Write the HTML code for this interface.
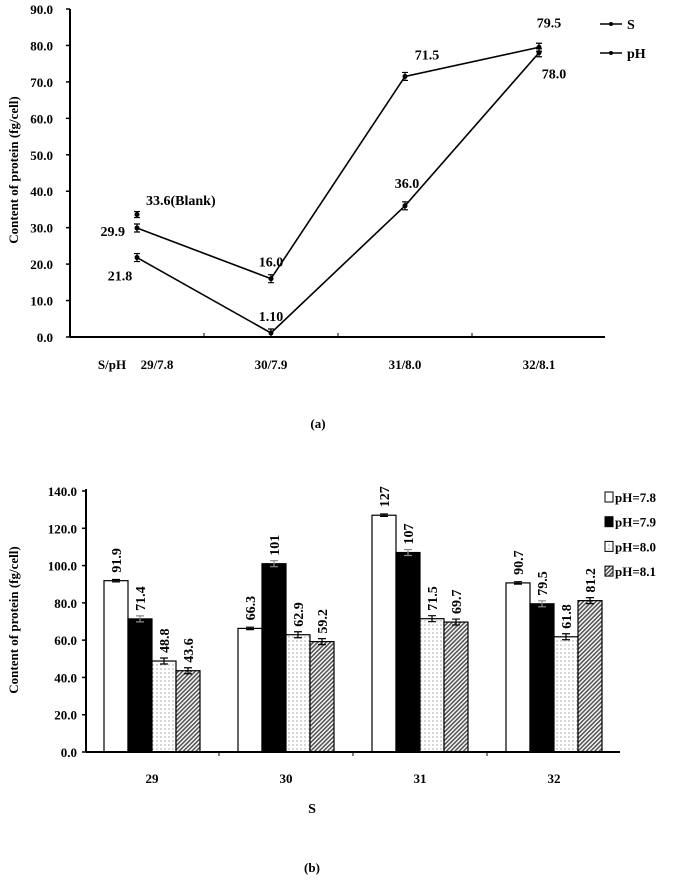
<!DOCTYPE html>
<html><head><meta charset="utf-8"><style>
body{margin:0;background:#fff;}
svg{display:block;font-family:"Liberation Serif",serif;font-weight:bold;}
</style></head><body>
<svg id="c" width="675" height="887">
<defs>
<pattern id="dots" width="4" height="4" patternUnits="userSpaceOnUse"><rect width="4" height="4" fill="#fff"/><circle cx="1" cy="1" r="0.6" fill="#777"/></pattern>
<pattern id="hatch" width="3" height="3" patternUnits="userSpaceOnUse" patternTransform="rotate(45)"><rect width="3" height="3" fill="#fff"/><rect width="1.6" height="3" fill="#555"/></pattern>
</defs>
</svg>
<script>
const lineCats=["29/7.8","30/7.9","31/8.0","32/8.1"];
const seriesS=[29.9,16.0,71.5,79.5];
const seriesPH=[21.8,1.10,36.0,78.0];
const blankVal=33.6;
const lineTicks=[0,10,20,30,40,50,60,70,80,90];
const barCats=["29","30","31","32"];
const bar78=[91.9,66.3,127,90.7];
const bar79=[71.4,101,107,79.5];
const bar80=[48.8,62.9,71.5,61.8];
const bar81=[43.6,59.2,69.7,81.2];
const barLabels=[["91.9","66.3","127","90.7"],["71.4","101","107","79.5"],["48.8","62.9","71.5","61.8"],["43.6","59.2","69.7","81.2"]];
const barTicks=[0,20,40,60,80,100,120,140];

const svg=document.getElementById('c');const NS="http://www.w3.org/2000/svg";
function el(t,a,txt){const e=document.createElementNS(NS,t);for(const k in a)e.setAttribute(k,a[k]);if(txt!==undefined)e.textContent=txt;svg.appendChild(e);return e;}

// ---- chart a
const ax0=70,ax1=605,ay0=337,ay1=9;
const yA=v=>ay0-(v/90)*(ay0-ay1);
const xA=i=>137+i*134;
let e=el('line',{x1:ax0,y1:ay0,x2:ax0,y2:ay1,stroke:'#000','stroke-width':2});

e=el('line',{x1:ax0,y1:ay0,x2:ax1,y2:ay0,stroke:'#000','stroke-width':2});

lineTicks.forEach(t=>{el('line',{x1:ax0-4,y1:yA(t),x2:ax0,y2:yA(t),stroke:'#000','stroke-width':1.5});
 e=el('text',{x:ax0-17,y:yA(t)+5,'font-size':13,'text-anchor':'end'},t.toFixed(1));
 });
[1,2,3].forEach(i=>el('line',{x1:xA(i)-67,y1:ay0,x2:xA(i)-67,y2:ay0-4,stroke:'#000','stroke-width':1}));
lineCats.forEach((c,i)=>{e=el('text',{x:xA(i)+(i==0?20:0),y:369,'font-size':13,'text-anchor':'middle'},c);
 });
e=el('text',{x:112,y:369,'font-size':13,'text-anchor':'middle'},'S/pH');

function series(vals,name){
 e=el('polyline',{points:vals.map((v,i)=>xA(i)+','+yA(v)).join(' '),fill:'none',stroke:'#000','stroke-width':1.6});
 
 vals.forEach((v,i)=>{el('circle',{cx:xA(i),cy:yA(v),r:2.5,fill:'#000'});
  el('path',{d:`M${xA(i)-3},${yA(v)-4}h6M${xA(i)},${yA(v)-4}v8M${xA(i)-3},${yA(v)+4}h6`,stroke:'#000','stroke-width':1.2});});
}
series(seriesS,'s-series');series(seriesPH,'ph-series');
el('circle',{cx:xA(0),cy:yA(blankVal),r:2.5,fill:'#000'});
el('path',{d:`M${xA(0)-3},${yA(blankVal)-3}h6M${xA(0)},${yA(blankVal)-3}v6M${xA(0)-3},${yA(blankVal)+3}h6`,stroke:'#000','stroke-width':1.2});
const lblA=[[seriesS[0],xA(0)-12,yA(seriesS[0])+8,'end'],[seriesS[1],xA(1),yA(seriesS[1])-12,'middle'],[seriesS[2],xA(2)+22,yA(seriesS[2])-17,'middle'],[seriesS[3],xA(3)+10,yA(seriesS[3])-20,'middle'],
[seriesPH[0],xA(0)-17,yA(seriesPH[0])+23,'middle'],[seriesPH[1],xA(1),yA(seriesPH[1])-12,'middle'],[seriesPH[2],xA(2)+2,yA(seriesPH[2])-18,'middle'],[seriesPH[3],xA(3)+15,yA(seriesPH[3])+26,'middle']];
lblA.forEach((l,k)=>{e=el('text',{x:l[1],y:l[2],'font-size':14,'text-anchor':l[3]},k==5?'1.10':l[0].toFixed(1));
 });
e=el('text',{x:146,y:205,'font-size':14},blankVal.toFixed(1)+'(Blank)');

e=el('text',{x:0,y:0,'font-size':13,'text-anchor':'middle',transform:'translate(18,170) rotate(-90)'},'Content of protein (fg/cell)');

[['S',24],['pH',53]].forEach(l=>{el('line',{x1:600,y1:l[1],x2:622,y2:l[1],stroke:'#000','stroke-width':1.5});el('circle',{cx:611,cy:l[1],r:2,fill:'#000'});
 e=el('text',{x:627,y:l[1]+5,'font-size':14},l[0]);});
e=el('text',{x:318,y:428,'font-size':13,'text-anchor':'middle'},'(a)');


// ---- chart b
const bx0=86,bx1=620,by0=752,by1=491;
const yB=v=>by0-(v/140)*(by0-by1);
const gx=i=>152+i*134;
e=el('line',{x1:bx0,y1:by0,x2:bx0,y2:by1-2,stroke:'#000','stroke-width':2});

barTicks.forEach(t=>{el('line',{x1:bx0-4,y1:yB(t),x2:bx0,y2:yB(t),stroke:'#000','stroke-width':1.5});
 e=el('text',{x:bx0-9,y:yB(t)+5,'font-size':13,'text-anchor':'end'},t.toFixed(1));
 });
barCats.forEach((c,i)=>{e=el('text',{x:gx(i),y:783,'font-size':13,'text-anchor':'middle'},c);
 });
[1,2,3].forEach(i=>el('line',{x1:gx(i)-67,y1:by0,x2:gx(i)-67,y2:by0+4,stroke:'#000','stroke-width':1}));
const sets=[[bar78,'#fff','ph-7-8'],[bar79,'#000','ph-7-9'],[bar80,'url(#dots)','ph-8-0'],[bar81,'url(#hatch)','ph-8-1']];
const bw=24;
sets.forEach((s,j)=>{s[0].forEach((v,i)=>{const x=gx(i)-48+j*bw;
 e=el('rect',{x:x,y:yB(v),width:bw,height:by0-yB(v),fill:s[1],stroke:'#000','stroke-width':1.2});
 
 const eb=j==1||j==2||j==3?3:1.2;const cx=x+bw/2;
 el('path',{d:`M${cx-4},${yB(v)-eb}h8M${cx},${yB(v)-eb}v${2*eb}M${cx-4},${yB(v)+eb}h8`,stroke:j==1?'#888':'#000','stroke-width':1.2});
 e=el('text',{x:0,y:0,'font-size':14,transform:`translate(${cx+5},${yB(v)-8}) rotate(-90)`},barLabels[j][i]);
 
});});
e=el('line',{x1:bx0,y1:by0,x2:bx1,y2:by0,stroke:'#000','stroke-width':2});

e=el('text',{x:312,y:813,'font-size':14,'text-anchor':'middle'},'S');

e=el('text',{x:0,y:0,'font-size':13,'text-anchor':'middle',transform:'translate(18,620) rotate(-90)'},'Content of protein (fg/cell)');

['pH=7.8','pH=7.9','pH=8.0','pH=8.1'].forEach((t,j)=>{const y=497+j*24.7;
 el('rect',{x:605,y:y-5,width:8,height:10,fill:sets[j][1],stroke:'#000','stroke-width':1});
 e=el('text',{x:615,y:y+5,'font-size':13},t);});
e=el('text',{x:312,y:872,'font-size':13,'text-anchor':'middle'},'(b)');

</script>
</body></html>
